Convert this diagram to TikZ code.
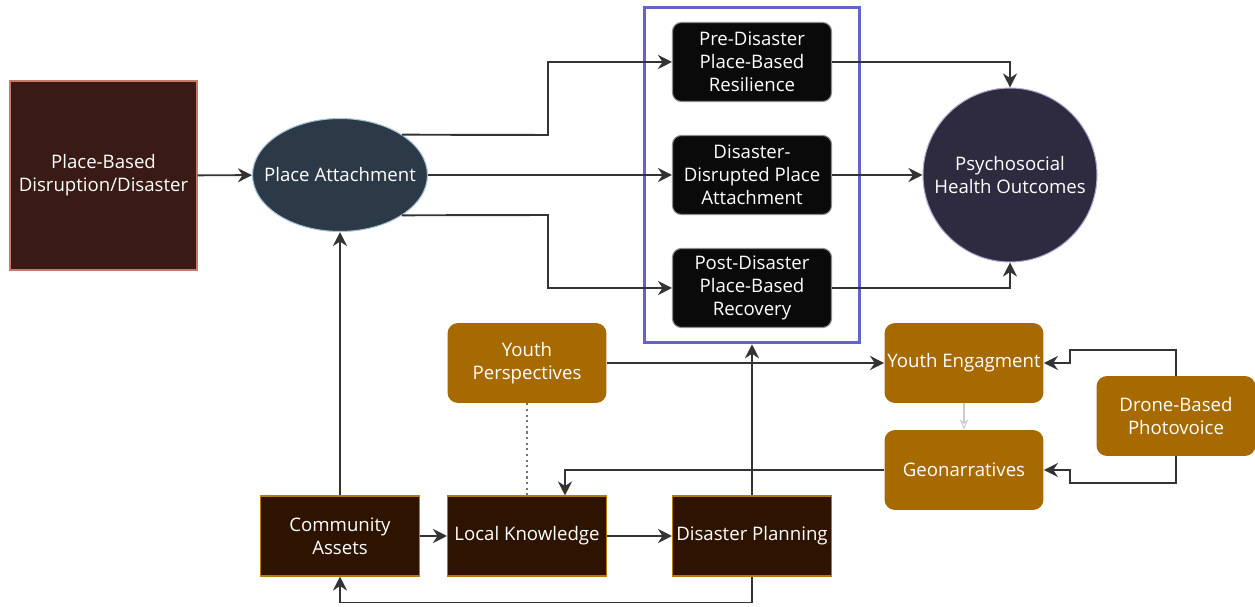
\documentclass[tikz,border=0pt]{standalone}
\usepackage{fontspec}
\setmainfont{Open Sans}
\usepackage{xcolor}
\usepackage{tikz}
\usetikzlibrary{arrows.meta,fit,shapes.geometric}

\definecolor{disrfill}{HTML}{3A1A14}
\definecolor{disrline}{HTML}{C87868}
\definecolor{slatefill}{HTML}{2C3A47}
\definecolor{slateline}{HTML}{A8C4DA}
\definecolor{framecol}{HTML}{6464C8}
\definecolor{psyfill}{HTML}{2E2A40}
\definecolor{psyline}{HTML}{B4A4CC}
\definecolor{ochre}{HTML}{A66A00}
\definecolor{brownfill}{HTML}{2E1400}
\definecolor{brownline}{HTML}{B8780C}
\definecolor{arrowcol}{HTML}{333333}

\begin{document}
\begin{tikzpicture}[
  x=0.02cm, y=-0.02cm,
  font=\fontsize{10.6}{13}\selectfont,
  disr/.style={draw=disrline, line width=0.8pt, fill=disrfill, text=white, align=center, minimum width=3.74cm, minimum height=3.78cm},
  attach/.style={ellipse, draw=slateline, line width=0.6pt, fill=slatefill, text=white, align=center, minimum width=3.28cm, minimum height=2.26cm, inner xsep=-8pt, inner ysep=0pt},
  phase/.style={draw=black!45, line width=0.6pt, fill=black!96, rounded corners=5pt, text=white, align=center, minimum width=3.18cm, minimum height=1.58cm, inner xsep=1pt},
  psy/.style={circle, draw=psyline, line width=0.6pt, fill=psyfill, text=white, align=center, minimum size=3.48cm, inner sep=0pt},
  youth/.style={fill=ochre, rounded corners=6pt, text=white, align=center, minimum width=3.18cm, minimum height=1.6cm, inner xsep=1pt},
  asset/.style={draw=brownline, line width=0.6pt, fill=brownfill, text=white, align=center, minimum width=3.18cm, minimum height=1.6cm, inner xsep=1pt},
  frame/.style={draw=framecol, line width=2pt, inner xsep=0.55cm, inner ysep=0.29cm},
  flow/.style={-{Stealth[length=8pt,width=8pt]}, line width=1.1pt, draw=arrowcol},
  faintflow/.style={-{Stealth[open,length=6pt,width=5pt]}, line width=0.6pt, draw=black!20},
  dotflow/.style={line width=1.2pt, draw=black!55, dotted}
]
\useasboundingbox (0,0) rectangle (1255,607);

% left side
\node[disr] (disr) at (103.5,175.5) {Place-Based\\Disruption/Disaster};
\node[attach] (place) at (340,175) {Place Attachment};

% middle column
\node[phase] (pre) at (752,62) {Pre-Disaster\\Place-Based\\Resilience};
\node[phase] (disrupted) at (752,175) {Disaster-\\Disrupted Place\\Attachment};
\node[phase] (post) at (752,288) {Post-Disaster\\Place-Based\\Recovery};
\node[frame, fit=(pre) (post)] (phasebox) {};

\node[psy] (psy) at (1010,175) {Psychosocial\\Health Outcomes};

% youth part
\node[youth] (youthPersp) at (527,363) {Youth\\Perspectives};
\node[youth] (youthEng) at (964,363) {Youth Engagment};
\node[youth] (geo) at (964,470) {Geonarratives};
\node[youth] (drone) at (1176,416) {Drone-Based\\Photovoice};

% bottom row
\node[asset] (assets) at (340,536) {Community\\Assets};
\node[asset] (local) at (527,536) {Local Knowledge};
\node[asset] (plan) at (752,536) {Disaster Planning};

\draw[flow] (disr) -- (place);
\draw[flow] (place.north east) -- (548,135) |- (pre.west);
\draw[flow] (place) -- (disrupted);
\draw[flow] (place.south east) -- (548,215) |- (post.west);

\draw[flow] (pre.east) -| (psy.north);
\draw[flow] (disrupted) -- (psy);
\draw[flow] (post.east) -| (psy.south);

\draw[flow] (youthPersp) -- (youthEng);
\draw[flow] (drone.north) |- (1070,350) |- (youthEng.east);
\draw[flow] (drone.south) |- (1070,483) |- (geo.east);
\draw[faintflow] (youthEng) -- (geo);
\draw[flow] (geo.west) -| ([xshift=0.76cm]local.north);
\draw[dotflow] (youthPersp) -- (local);

\draw[flow] (assets) -- (local);
\draw[flow] (local) -- (plan);
\draw[flow] (plan.north) -- (plan.north |- phasebox.south);
\draw[flow] (plan.south) -- ++(0,26) -| (assets.south);
\draw[flow] (assets) -- (place);

\end{tikzpicture}
\end{document}
